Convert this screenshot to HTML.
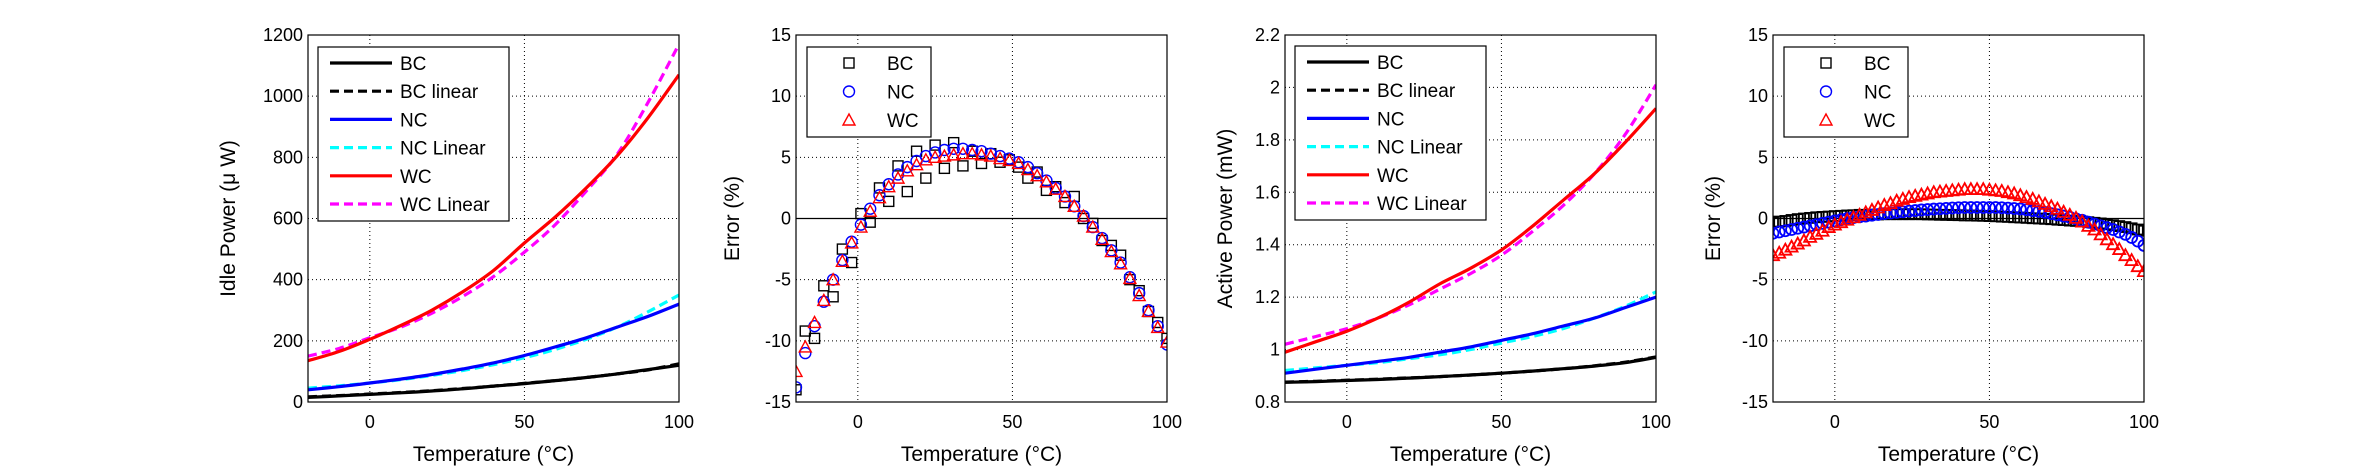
<!DOCTYPE html>
<html><head><meta charset="utf-8"><style>
html,body{margin:0;padding:0;background:#fff;}
svg{display:block;font-family:"Liberation Sans",Arial,sans-serif;}
</style></head><body>
<svg id="fig" width="2369" height="472" viewBox="0 0 2369 472" xmlns="http://www.w3.org/2000/svg"></svg>
<script>
// ---- shared x data ----
const tempLine = [-20,-10,0,10,20,30,40,50,60,70,80,90,100];
const tempErr = [-20,-17,-14,-11,-8,-5,-2,1,4,7,10,13,16,19,22,25,28,31,34,37,40,43,46,49,52,55,58,61,64,67,70,73,76,79,82,85,88,91,94,97,100];
const tempErr2 = [-20,-18,-16,-14,-12,-10,-8,-6,-4,-2,0,2,4,6,8,10,12,14,16,18,20,22,24,26,28,30,32,34,36,38,40,42,44,46,48,50,52,54,56,58,60,62,64,66,68,70,72,74,76,78,80,82,84,86,88,90,92,94,96,98,100];
const xTicks = [0,50,100];
// ---- plot 1: idle power ----
const idleBC = [15,20,25,30,36,43,52,60,70,80,92,106,120];
const idleBCLin = [17,21,26,31,37,44,52,61,70,80,92,105,125];
const idleNC = [40,50,62,75,90,108,128,152,180,210,245,280,320];
const idleNCLin = [45,53,62,73,87,103,122,145,172,205,245,295,350];
const idleWC = [135,165,205,250,300,360,430,520,605,700,805,930,1070];
const idleWCLin = [150,175,210,245,290,345,410,490,580,690,810,980,1170];
const idleTicks = [0,200,400,600,800,1000,1200];
// ---- plot 3: active power ----
const actBC = [0.875,0.878,0.882,0.886,0.891,0.897,0.903,0.910,0.918,0.927,0.937,0.950,0.970];
const actBCLin = [0.876,0.879,0.883,0.887,0.892,0.897,0.903,0.910,0.918,0.927,0.938,0.952,0.972];
const actNC = [0.91,0.925,0.94,0.955,0.97,0.99,1.01,1.035,1.06,1.09,1.12,1.16,1.20];
const actNCLin = [0.92,0.93,0.94,0.95,0.965,0.98,1.0,1.025,1.05,1.08,1.12,1.165,1.22];
const actWC = [0.99,1.03,1.07,1.12,1.18,1.25,1.31,1.38,1.47,1.57,1.67,1.79,1.92];
const actWCLin = [1.02,1.05,1.08,1.12,1.17,1.23,1.29,1.36,1.45,1.55,1.67,1.82,2.01];
const actTicks = [0.8,1,1.2,1.4,1.6,1.8,2,2.2];
const actTickLabels = ["0.8","1","1.2","1.4","1.6","1.8","2","2.2"];
// ---- plot 2: idle error ----
const idleErrBC = [-14,-9.2,-9.8,-5.5,-6.4,-2.5,-3.6,0.4,-0.3,2.5,1.4,4.3,2.2,5.5,3.3,6.0,4.1,6.2,4.3,5.5,4.5,5.3,4.6,4.8,4.2,3.3,3.8,2.3,2.6,1.3,1.8,0.0,-0.4,-1.8,-2.2,-3.0,-5.0,-5.9,-7.6,-8.5,-9.8];
const idleErrNC = [-13.8,-11.0,-8.8,-6.8,-5.0,-3.4,-1.9,-0.5,0.8,1.9,2.8,3.6,4.2,4.7,5.1,5.4,5.6,5.7,5.7,5.6,5.5,5.3,5.1,4.9,4.6,4.2,3.7,3.1,2.5,1.8,1.0,0.2,-0.7,-1.6,-2.6,-3.6,-4.8,-6.1,-7.5,-8.8,-10.3];
const idleErrWC = [-12.5,-10.5,-8.5,-6.7,-5.0,-3.5,-2.0,-0.7,0.6,1.7,2.6,3.3,3.9,4.4,4.8,5.0,5.1,5.2,5.3,5.3,5.2,5.1,4.9,4.75,4.5,4.0,3.5,3.0,2.4,1.8,1.0,0.2,-0.7,-1.7,-2.7,-3.7,-4.9,-6.3,-7.6,-8.9,-10.1];
// ---- plot 4: active error ----
const actErrBC = [-0.3,-0.25,-0.2,-0.12,-0.05,0,0.05,0.1,0.13,0.16,0.2,0.22,0.25,0.27,0.3,0.3,0.32,0.33,0.35,0.35,0.35,0.35,0.35,0.35,0.35,0.33,0.32,0.3,0.3,0.28,0.27,0.25,0.25,0.23,0.22,0.2,0.18,0.15,0.13,0.1,0.08,0.05,0.02,0,-0.03,-0.06,-0.1,-0.13,-0.17,-0.2,-0.25,-0.3,-0.35,-0.4,-0.47,-0.55,-0.62,-0.7,-0.8,-0.9,-1.0];
const actErrNC = [-1.2,-1.1,-1.0,-0.9,-0.8,-0.7,-0.6,-0.5,-0.4,-0.3,-0.2,-0.1,0,0.07,0.14,0.2,0.27,0.33,0.4,0.45,0.5,0.55,0.6,0.65,0.7,0.73,0.77,0.8,0.83,0.86,0.88,0.9,0.9,0.9,0.9,0.9,0.9,0.88,0.85,0.82,0.78,0.72,0.65,0.58,0.5,0.4,0.3,0.2,0.1,-0.03,-0.15,-0.3,-0.45,-0.6,-0.75,-0.9,-1.1,-1.3,-1.55,-1.85,-2.2];
const actErrWC = [-3.0,-2.8,-2.55,-2.3,-2.05,-1.8,-1.5,-1.25,-1.0,-0.7,-0.5,-0.3,-0.1,0.1,0.3,0.5,0.7,0.9,1.1,1.25,1.45,1.6,1.75,1.85,1.95,2.05,2.15,2.2,2.25,2.3,2.35,2.4,2.4,2.4,2.4,2.35,2.3,2.25,2.15,2.05,1.9,1.75,1.6,1.4,1.2,1.0,0.8,0.55,0.3,0.05,-0.25,-0.6,-0.9,-1.3,-1.7,-2.1,-2.5,-3.0,-3.4,-3.9,-4.3];
const errTicks = [-15,-10,-5,0,5,10,15];

const NS="http://www.w3.org/2000/svg";
const svg=document.getElementById('fig');
function mk(tag,attrs,parent){const e=document.createElementNS(NS,tag);for(const k in attrs)e.setAttribute(k,attrs[k]);(parent||svg).appendChild(e);return e;}
const TOP=35,BOT=402,W=371;

function axes(left,ymin,ymax,yTicks,yLabels,ylabel,ylabelX,name,zeroLine){
  const g=mk('g',{});
  
  
  const sx=t=>left+(t+20)/120*W;
  const sy=v=>BOT-(v-ymin)/(ymax-ymin)*(BOT-TOP);
  mk('rect',{x:left,y:TOP,width:W,height:BOT-TOP,fill:'#fff',stroke:'none'},g);
  xTicks.forEach(t=>{
    const l=mk('line',{x1:sx(t),x2:sx(t),y1:TOP,y2:BOT,stroke:'#000','stroke-width':1,'stroke-dasharray':'1,3'},g);
    
    
    const tx=mk('text',{x:sx(t),y:428,'font-size':18,'text-anchor':'middle'},g);tx.textContent=t;
    
    
  });
  yTicks.forEach((v,i)=>{
    if(i>0&&i<yTicks.length-1){
      const l=mk('line',{x1:left,x2:left+W,y1:sy(v),y2:sy(v),stroke:'#000','stroke-width':1,'stroke-dasharray':'1,3'},g);
      
      
    }
    const tx=mk('text',{x:left-5,y:sy(v)+6,'font-size':18,'text-anchor':'end'},g);tx.textContent=yLabels[i];
    
    
  });
  if(zeroLine){const z=mk('line',{x1:left,x2:left+W,y1:sy(0),y2:sy(0),stroke:'#000','stroke-width':1.2},g);
    
    }
  const xl=mk('text',{x:left+W/2,y:461,'font-size':21,'text-anchor':'middle'},g);xl.textContent='Temperature (°C)';
  
  
  const yl=mk('text',{x:ylabelX,y:(TOP+BOT)/2,'font-size':21,'text-anchor':'middle',transform:`rotate(-90 ${ylabelX} ${(TOP+BOT)/2})`,dy:7},g);yl.textContent=ylabel;
  
  
  const data=mk('g',{},g);
  const clip='c'+left;
  const cp=mk('clipPath',{id:clip},g);mk('rect',{x:left,y:TOP,width:W,height:BOT-TOP},cp);
  data.setAttribute('clip-path',`url(#${clip})`);
  return {g,data,sx,sy,left,finish(){mk('rect',{x:left,y:TOP,width:W,height:BOT-TOP,fill:'none',stroke:'#000','stroke-width':1.2},g);}};
}
function smoothPath(pts){
  let d='M'+pts[0][0].toFixed(1)+','+pts[0][1].toFixed(1);
  for(let i=0;i<pts.length-1;i++){
    const p0=pts[Math.max(i-1,0)],p1=pts[i],p2=pts[i+1],p3=pts[Math.min(i+2,pts.length-1)];
    const c1=[p1[0]+(p2[0]-p0[0])/6,p1[1]+(p2[1]-p0[1])/6];
    const c2=[p2[0]-(p3[0]-p1[0])/6,p2[1]-(p3[1]-p1[1])/6];
    d+=` C${c1[0].toFixed(1)},${c1[1].toFixed(1)} ${c2[0].toFixed(1)},${c2[1].toFixed(1)} ${p2[0].toFixed(1)},${p2[1].toFixed(1)}`;
  }
  return d;
}
function line(ax,ys,color,dash,name){
  const pts=ys.map((v,i)=>[ax.sx(tempLine[i]),ax.sy(v)]);
  const e=mk('path',{d:smoothPath(pts),fill:'none',stroke:color,'stroke-width':3.2,'stroke-dasharray':dash?'9,5':'none','stroke-linejoin':'round'},ax.data);
  
  
}
function marker(parent,type,x,y,color,sw){
  sw=sw||1.4;
  let e;
  if(type==='sq') e=mk('rect',{x:x-5,y:y-5,width:10,height:10,fill:'none',stroke:color,'stroke-width':sw},parent);
  else if(type==='ci') e=mk('circle',{cx:x,cy:y,r:5.5,fill:'none',stroke:color,'stroke-width':sw},parent);
  else e=mk('polygon',{points:`${x},${y-6} ${x-6},${y+5} ${x+6},${y+5}`,fill:'none',stroke:color,'stroke-width':sw},parent);
  return e;
}
function scatter(ax,xs,ys,type,color,name,sw){
  const g=mk('g',{},ax.data);
  
  
  ys.forEach((v,i)=>{const m=marker(g,type,ax.sx(xs[i]),ax.sy(v),color,sw);
    
    });
}
function lineLegend(left,top){
  const g=mk('g',{});
  
  
  mk('rect',{x:left+10,y:top,width:191,height:174,fill:'#fff',stroke:'#000','stroke-width':1.2},g);
  const items=[['BC','#000',0],['BC linear','#000',1],['NC','#0000ff',0],['NC Linear','#00ffff',1],['WC','#ff0000',0],['WC Linear','#ff00ff',1]];
  items.forEach((it,i)=>{
    const y=top+16+i*28.2;
    const e=mk('g',{},g);
    
    
    mk('line',{x1:left+22,x2:left+84,y1:y,y2:y,stroke:it[1],'stroke-width':3.2,'stroke-dasharray':it[2]?'9,5':'none'},e);
    const t=mk('text',{x:left+92,y:y+7,'font-size':19},e);t.textContent=it[0];
  });
}
function markLegend(left,top){
  const g=mk('g',{});
  
  
  mk('rect',{x:left+11,y:top,width:124,height:90,fill:'#fff',stroke:'#000','stroke-width':1.2},g);
  const items=[['BC','sq','#000'],['NC','ci','#0000ff'],['WC','tr','#ff0000']];
  items.forEach((it,i)=>{
    const y=top+16+i*28.5;
    const e=mk('g',{},g);
    
    
    marker(e,it[1],left+53,y,it[2]);
    const t=mk('text',{x:left+91,y:y+7,'font-size':19},e);t.textContent=it[0];
  });
}

// Plot 1
let a=axes(308,0,1200,idleTicks,idleTicks.map(String),'Idle Power (μ W)',228,'idle-power-chart',false);
line(a,idleWCLin,'#ff00ff',1,'wc-linear-line');line(a,idleWC,'#ff0000',0,'wc-line');
line(a,idleNCLin,'#00ffff',1,'nc-linear-line');line(a,idleNC,'#0000ff',0,'nc-line');
line(a,idleBCLin,'#000',1,'bc-linear-line');line(a,idleBC,'#000',0,'bc-line');
a.finish();lineLegend(308,47);
// Plot 2
a=axes(796,-15,15,errTicks,errTicks.map(String),'Error (%)',732,'idle-error-chart',true);
scatter(a,tempErr,idleErrBC,'sq','#000','bc-error-series');scatter(a,tempErr,idleErrNC,'ci','#0000ff','nc-error-series');scatter(a,tempErr,idleErrWC,'tr','#ff0000','wc-error-series');
a.finish();markLegend(796,47);
// Plot 3
a=axes(1285,0.8,2.2,actTicks,actTickLabels,'Active Power (mW)',1225,'active-power-chart',false);
line(a,actWCLin,'#ff00ff',1,'wc-linear-line');line(a,actWC,'#ff0000',0,'wc-line');
line(a,actNCLin,'#00ffff',1,'nc-linear-line');line(a,actNC,'#0000ff',0,'nc-line');
line(a,actBCLin,'#000',1,'bc-linear-line');line(a,actBC,'#000',0,'bc-line');
a.finish();lineLegend(1285,46);
// Plot 4
a=axes(1773,-15,15,errTicks,errTicks.map(String),'Error (%)',1713,'active-error-chart',true);
scatter(a,tempErr2,actErrBC,'sq','#000','bc-error-series',1.8);scatter(a,tempErr2,actErrNC,'ci','#0000ff','nc-error-series',1.8);scatter(a,tempErr2,actErrWC,'tr','#ff0000','wc-error-series',1.8);
a.finish();markLegend(1773,47);
</script>
</body></html>
